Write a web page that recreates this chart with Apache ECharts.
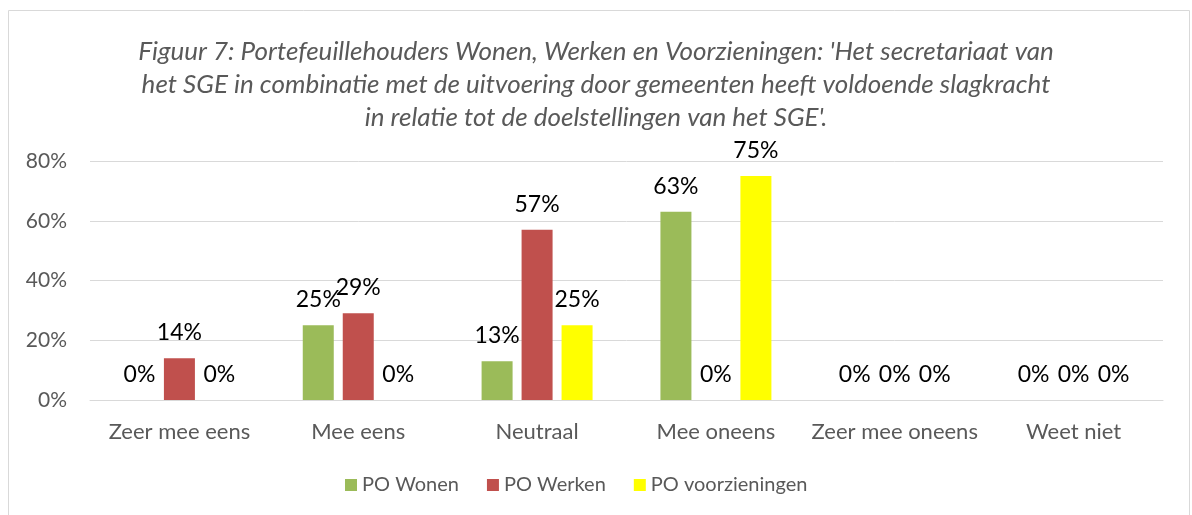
<!DOCTYPE html>
<html>
<head>
<meta charset="utf-8">
<style>
  html, body { margin: 0; padding: 0; background: #fff; }
  #main { width: 1192px; height: 515px; }
</style>
<script src="https://cdn.jsdelivr.net/npm/echarts@6/dist/echarts.min.js"></script>
</head>
<body>
<div id="main"></div>
<script>
var categories = ['Zeer mee eens', 'Mee eens', 'Neutraal', 'Mee oneens', 'Zeer mee oneens', 'Weet niet'];
var poWonen = [0, 25, 13, 63, 0, 0];
var poWerken = [14, 29, 57, 0, 0, 0];
var poVoorzieningen = [0, 0, 25, 75, 0, 0];
var yTicks = [0, 20, 40, 60, 80];

var font = 'Lato, "Open Sans", sans-serif';

function barSeries(name, data, color) {
  return {
    name: name,
    type: 'bar',
    data: data,
    barWidth: 31,
    barGap: '29%',
    itemStyle: { color: color },
    label: {
      show: true,
      position: 'top',
      distance: 14,
      formatter: '{c}%',
      color: '#000',
      fontSize: 23,
      fontFamily: font
    }
  };
}

var myChart = echarts.init(document.getElementById('main'));

var option = {
  animation: false,
  title: {
    text: "Figuur 7: Portefeuillehouders Wonen, Werken en Voorzieningen: 'Het secretariaat van\nhet SGE in combinatie met de uitvoering door gemeenten heeft voldoende slagkracht\nin relatie tot de doelstellingen van het SGE'.",
    left: 'center',
    top: 30,
    textStyle: {
      color: '#595959',
      fontStyle: 'italic',
      fontWeight: 'normal',
      fontFamily: font,
      fontSize: 26,
      lineHeight: 33
    }
  },
  graphic: [{
    type: 'rect',
    shape: { x: 8.5, y: 10.5, width: 1181, height: 520 },
    style: { fill: 'none', stroke: '#d9d9d9', lineWidth: 1 },
    silent: true
  }],
  legend: {
    bottom: 15,
    left: 340,
    itemWidth: 12,
    itemHeight: 12,
    itemGap: 28,
    icon: 'rect',
    textStyle: { color: '#595959', fontSize: 20, fontFamily: font }
  },
  grid: { left: 90, right: 29, top: 161, bottom: 115, containLabel: false },
  xAxis: {
    type: 'category',
    data: categories,
    axisLine: { lineStyle: { color: '#d9d9d9' } },
    axisTick: { show: false },
    axisLabel: { color: '#595959', fontSize: 22, fontFamily: font, margin: 21, interval: 0 }
  },
  yAxis: {
    type: 'value',
    min: yTicks[0],
    max: yTicks[yTicks.length - 1],
    interval: 20,
    axisLine: { show: false },
    axisTick: { show: false },
    splitLine: { lineStyle: { color: '#d9d9d9' } },
    axisLabel: { color: '#595959', fontSize: 21, fontFamily: font, margin: 23, formatter: '{value}%' }
  },
  series: [
    barSeries('PO Wonen', poWonen, '#9bbb59'),
    barSeries('PO Werken', poWerken, '#c0504d'),
    barSeries('PO voorzieningen', poVoorzieningen, '#ffff00')
  ]
};

myChart.setOption(option);
</script>
</body>
</html>
